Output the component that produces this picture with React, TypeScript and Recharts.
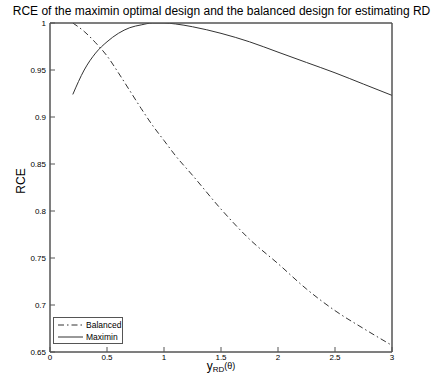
import React from 'react';
import { LineChart, Line, XAxis, YAxis, ReferenceArea } from 'recharts';

// values
const xValues = [0.2, 0.3, 0.4, 0.5, 0.6, 0.7, 0.8, 0.9, 1.0, 1.1, 1.25, 1.5, 1.75, 2.0, 2.25, 2.5, 2.75, 3.0];
const balanced = [1.0, 0.991, 0.979, 0.965, 0.947, 0.928, 0.909, 0.891, 0.875, 0.859, 0.838, 0.802, 0.77, 0.744, 0.717, 0.694, 0.675, 0.657];
const maximin = [0.924, 0.95, 0.968, 0.98, 0.989, 0.995, 0.998, 1.0, 1.0, 0.999, 0.996, 0.989, 0.98, 0.969, 0.958, 0.947, 0.935, 0.923];

const xTicks = [0, 0.5, 1, 1.5, 2, 2.5, 3];
const yTicks = [0.65, 0.7, 0.75, 0.8, 0.85, 0.9, 0.95, 1];
const seriesNames = ['Balanced', 'Maximin'];
const titleText = 'RCE of the maximin optimal design and the balanced design for estimating RD';

const data = xValues.map((x, i) => ({ x, balanced: balanced[i], maximin: maximin[i] }));

const FONT = '"Liberation Sans", Arial, Helvetica, sans-serif';
const AXIS = '#555';
const INK = '#333';
const dashDot = '6 3 1.5 3';

// x label with subscript, placed under the tick labels
const XLabel = () => (
  <text x={221} y={370} textAnchor="middle" fontFamily={FONT} fill="#000">
    <tspan fontSize={12}>y</tspan>
    <tspan fontSize={8} dy={2}>RD</tspan>
    <tspan fontSize={9} dy={-3}>(θ)</tspan>
  </text>
);

const YLabel = () => (
  <text x={21} y={181} transform="rotate(-90, 21, 181)" textAnchor="middle" dominantBaseline="central" fontSize={12} fontFamily={FONT} fill="#000">
    RCE
  </text>
);

function LegendBox() {
  const styles = [dashDot, undefined];
  return (
    <div
      style={{
        position: 'absolute', left: 53, top: 317, width: 68, height: 25,
        border: `1px solid ${AXIS}`, background: '#fff', fontFamily: FONT, fontSize: 8.5,
        color: '#000', boxSizing: 'content-box',
      }}
    >
      {seriesNames.map((name, i) => (
        <div key={name} style={{ display: 'flex', alignItems: 'center', height: 12, marginTop: i === 0 ? 1 : 0 }}>
          <svg width={32} height={12} style={{ display: 'block' }}>
            <line x1={4} x2={29} y1={6} y2={6} stroke={INK} strokeWidth={1} strokeDasharray={styles[i]} />
          </svg>
          <span>{name}</span>
        </div>
      ))}
    </div>
  );
}

export default function App() {
  const tickStyle = { fontSize: 8, fontFamily: FONT, fill: '#000' };
  const axisLine = { stroke: AXIS, strokeWidth: 1 };
  return (
    <div style={{ position: 'absolute', left: 0, top: 0, width: 432, height: 388, background: '#fff' }}>
      <div
        style={{
          position: 'absolute', left: 0, top: 4, width: 443, textAlign: 'center', whiteSpace: 'nowrap',
          fontFamily: FONT, fontSize: 12, lineHeight: '15px', color: '#000',
        }}
      >
        {titleText}
      </div>
      <LineChart width={432} height={388} data={data} margin={{ top: 22, right: 39, bottom: 0, left: 0 }}>
        <XAxis
          xAxisId="bottom"
          dataKey="x"
          type="number"
          domain={[0, 3]}
          ticks={xTicks}
          height={36}
          stroke={AXIS}
          axisLine={axisLine}
          tickSize={-5}
          tickMargin={7}
          tick={tickStyle}
          interval={0}
          allowDataOverflow
          label={<XLabel />}
        />
        <XAxis
          xAxisId="top"
          orientation="top"
          type="number"
          dataKey="x"
          domain={[0, 3]}
          ticks={xTicks}
          height={1}
          stroke={AXIS}
          axisLine={axisLine}
          tickSize={-5}
          tick={false}
          interval={0}
          allowDataOverflow
        />
        <YAxis
          yAxisId="left"
          type="number"
          domain={[0.65, 1]}
          ticks={yTicks}
          width={50}
          stroke={AXIS}
          axisLine={axisLine}
          tickSize={-5}
          tickMargin={9}
          tick={tickStyle}
          interval={0}
          allowDataOverflow
          label={<YLabel />}
        />
        <YAxis
          yAxisId="right"
          orientation="right"
          type="number"
          domain={[0.65, 1]}
          ticks={yTicks}
          width={1}
          stroke={AXIS}
          axisLine={axisLine}
          tickSize={-5}
          tick={false}
          interval={0}
          allowDataOverflow
        />
        <ReferenceArea
          xAxisId="bottom"
          yAxisId="left"
          x1={0}
          x2={3}
          y1={0.65}
          y2={1}
          fill="none"
          fillOpacity={0}
          stroke={AXIS}
          strokeWidth={1}
          ifOverflow="extendDomain"
        />
        <Line
          xAxisId="bottom"
          yAxisId="left"
          type="monotone"
          dataKey="balanced"
          name={seriesNames[0]}
          stroke={INK}
          strokeWidth={1}
          strokeDasharray={dashDot}
          dot={false}
          isAnimationActive={false}
        />
        <Line
          xAxisId="bottom"
          yAxisId="left"
          type="monotone"
          dataKey="maximin"
          name={seriesNames[1]}
          stroke={INK}
          strokeWidth={1}
          dot={false}
          isAnimationActive={false}
        />
      </LineChart>
      <LegendBox />
    </div>
  );
}
